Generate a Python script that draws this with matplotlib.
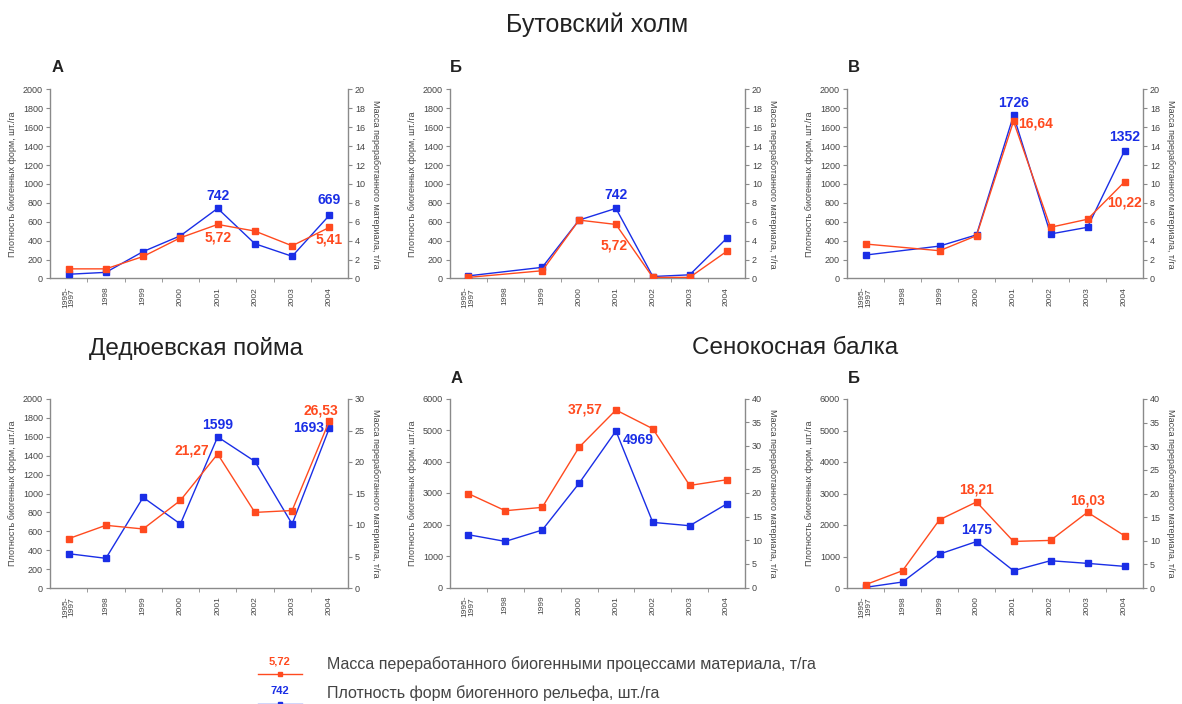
import numpy as np
import matplotlib
matplotlib.use("Agg")
import matplotlib.pyplot as plt
from matplotlib.lines import Line2D
from matplotlib.text import Text
from matplotlib.legend_handler import HandlerBase

plt.rcParams['font.family'] = ['Liberation Sans', 'DejaVu Sans']

# годы наблюдений
years = ["1995-\n1997", "1998", "1999", "2000", "2001", "2002", "2003", "2004"]

# Бутовский холм, А
butovo_a_density = [45, 65, 285, 452, 742, 368, 235, 669]
butovo_a_mass = [1.02, 1.02, 2.33, 4.31, 5.72, 5.02, 3.46, 5.41]
# Бутовский холм, Б (1998 нет данных)
butovo_b_density = [28, np.nan, 118, 618, 742, 21, 39, 424]
butovo_b_mass = [0.12, np.nan, 0.82, 6.18, 5.72, 0.12, 0.12, 2.86]
# Бутовский холм, В
butovo_v_density = [248, np.nan, 343, 462, 1726, 471, 542, 1352]
butovo_v_mass = [3.65, np.nan, 2.94, 4.53, 16.64, 5.42, 6.27, 10.22]
# Дедюевская пойма
dedyuevo_density = [363, 314, 959, 677, 1599, 1340, 677, 1693]
dedyuevo_mass = [7.83, 9.95, 9.37, 13.9, 21.27, 12.0, 12.3, 26.53]
# Сенокосная балка, А
senokos_a_density = [1675, 1463, 1823, 3307, 4969, 2067, 1961, 2650]
senokos_a_mass = [19.86, 16.25, 16.96, 29.68, 37.57, 33.6, 21.6, 22.8]
# Сенокосная балка, Б
senokos_b_density = [21, 190, 1077, 1475, 549, 866, 782, 687]
senokos_b_mass = [0.7, 3.66, 14.44, 18.21, 9.86, 10.07, 16.03, 11.06]

BLUE = "#1a2ee6"
RED = "#ff4a1f"
GRAY = "#8a8a8a"
TXT = "#444444"

dens_label = "Плотность биогенных форм, шт./га"
mass_label = "Масса переработанного материала, т/га"

fig = plt.figure(figsize=(11.82, 7.04), dpi=100)


def fmt(v, mass):
    if mass:
        return ("%.2f" % v).replace(".", ",")
    return "%d" % v


def panel(rect, dens, mass, dmax, dstep, mmax, mstep, dnotes, mnotes):
    """dnotes / mnotes: (индекс, смещение по x, смещение по y) в пикселях"""
    ax = fig.add_axes(rect)
    ax2 = ax.twinx()
    x = np.arange(len(years))
    dens = np.array(dens, dtype=float)
    mass = np.array(mass, dtype=float)
    m1 = ~np.isnan(dens)
    m2 = ~np.isnan(mass)
    ax.plot(x[m1], dens[m1], color=BLUE, lw=1.0, marker="s", ms=3.8, zorder=3)
    ax2.plot(x[m2], mass[m2], color=RED, lw=1.0, marker="s", ms=3.8, zorder=3)

    ax.set_xlim(-0.5, len(years) - 0.5)
    ax.set_ylim(0, dmax)
    ax2.set_ylim(0, mmax)
    ax.set_yticks(np.arange(0, dmax + 1, dstep))
    ax2.set_yticks(np.arange(0, mmax + 0.01, mstep))
    ax.set_xticks(x)
    ax.set_xticklabels(years, rotation=90, fontsize=6, color=TXT, linespacing=0.9)
    ax.set_xticks(np.arange(0.5, len(years) - 1, 1), minor=True)
    ax.tick_params(axis="x", which="major", length=0, pad=6)
    ax.tick_params(axis="x", which="minor", length=3, color=GRAY, direction="out")
    ax.tick_params(axis="y", length=3, color=GRAY, labelsize=6.5, labelcolor=TXT, pad=2)
    ax2.tick_params(axis="y", length=3, color=GRAY, labelsize=6.5, labelcolor=TXT, pad=2)

    for a in (ax, ax2):
        a.spines["top"].set_visible(False)
        for s in ("left", "right", "bottom"):
            a.spines[s].set_color(GRAY)
            a.spines[s].set_linewidth(1.0)
    ax.spines["right"].set_visible(False)
    ax2.spines["left"].set_visible(False)
    ax2.spines["bottom"].set_visible(False)

    ax.set_ylabel(dens_label, fontsize=6.5, color=TXT, labelpad=4)
    ax2.set_ylabel(mass_label, fontsize=6.5, color=TXT, rotation=270, labelpad=11)

    for i, dx, dy in dnotes:
        ax.annotate(fmt(dens[i], False), (x[i], dens[i]), xytext=(dx * 0.72, dy * 0.72),
                    textcoords="offset points", ha="center", va="center",
                    color=BLUE, fontsize=10, fontweight="bold")
    for i, dx, dy in mnotes:
        ax2.annotate(fmt(mass[i], True), (x[i], mass[i]), xytext=(dx * 0.72, dy * 0.72),
                     textcoords="offset points", ha="center", va="center",
                     color=RED, fontsize=10, fontweight="bold")
    return ax


W, H = 1182.0, 704.0


def rect(l, r, t, b):
    return [l / W, 1 - b / H, (r - l) / W, (b - t) / H]


panel(rect(50, 348, 89.5, 278.5), butovo_a_density, butovo_a_mass, 2000, 200, 20, 2,
      [(4, 0, 12), (7, 0, 15)], [(4, 0, -13), (7, 0, -12)])
panel(rect(450, 745, 89.5, 278.5), butovo_b_density, butovo_b_mass, 2000, 200, 20, 2,
      [(4, 0, 13)], [(4, -2, -21)])
panel(rect(847, 1143, 89.5, 278.5), butovo_v_density, butovo_v_mass, 2000, 200, 20, 2,
      [(4, 0, 12), (7, 0, 14)], [(4, 22, -2), (7, 0, -21)])
panel(rect(50, 348, 399, 588), dedyuevo_density, dedyuevo_mass, 2000, 200, 30, 5,
      [(4, 0, 12), (7, -21, 0)], [(4, -26, 3), (7, -8, 10)])
panel(rect(450, 745, 398.5, 587.5), senokos_a_density, senokos_a_mass, 6000, 1000, 40, 5,
      [(4, 22, -9)], [(4, -31, 0)])
panel(rect(847, 1143, 399, 588), senokos_b_density, senokos_b_mass, 6000, 1000, 40, 5,
      [(3, 0, 12)], [(3, 0, 12), (6, 0, 12)])

# заголовки
fig.text(597 / W, 1 - 25 / H, "Бутовский холм", ha="center", va="center", fontsize=18, color="#222222")
fig.text(196 / W, 1 - 348 / H, "Дедюевская пойма", ha="center", va="center", fontsize=17.5, color="#222222")
fig.text(795 / W, 1 - 348 / H, "Сенокосная балка", ha="center", va="center", fontsize=17.5, color="#222222")
for lx, ly, s in [(52, 68, "А"), (450, 68, "Б"), (848, 68, "В"), (451, 378, "А"), (848, 378, "Б")]:
    fig.text(lx / W, 1 - ly / H, s, ha="left", va="center", fontsize=12, fontweight="bold", color="#222222")


class NumHandler(HandlerBase):
    def __init__(self, num, color):
        super().__init__()
        self.num = num
        self.color = color

    def create_artists(self, legend, orig_handle, xdescent, ydescent, width, height, fontsize, trans):
        x0 = -xdescent
        yc = -ydescent + height / 2
        yl = yc - 8
        line = Line2D([x0, x0 + width], [yl, yl], color=self.color, lw=1.0, transform=trans)
        mk = Line2D([x0 + width / 2], [yl], color=self.color, marker="s", ms=3.5,
                    lw=0, transform=trans)
        t = Text(x0 + width / 2, yc + 1, self.num, ha="center", va="center", color=self.color,
                 fontsize=8, fontweight="bold", transform=trans)
        return [line, mk, t]


h1 = Line2D([], [], color=RED)
h2 = Line2D([], [], color=BLUE)
fig.legend([h1, h2],
           ["Масса переработанного биогенными процессами материала, т/га",
            "Плотность форм биогенного рельефа, шт./га"],
           handler_map={h1: NumHandler("5,72", RED), h2: NumHandler("742", BLUE)},
           loc="upper left", bbox_to_anchor=(258 / W, 1 - 656 / H), frameon=False,
           fontsize=11.5, handlelength=2.75, handletextpad=1.55, labelspacing=0.86,
           borderpad=0, borderaxespad=0, labelcolor=TXT)

fig.savefig("out.png", dpi=100, facecolor="white")
